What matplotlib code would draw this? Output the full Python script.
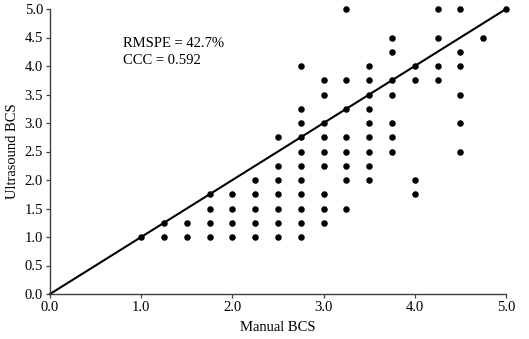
import matplotlib
matplotlib.use("Agg")
import matplotlib.pyplot as plt

plt.rcParams['font.family'] = ['Liberation Serif', 'DejaVu Serif']

# Manual BCS columns and the Ultrasound BCS values observed in each
manual_bcs = [1.0, 1.25, 1.5, 1.75, 2.0, 2.25, 2.5, 2.75, 3.0, 3.25, 3.5, 3.75, 4.0, 4.25, 4.5, 4.75, 5.0]
ultrasound_by_manual = [
    [1.0],
    [1.0, 1.25],
    [1.0, 1.25],
    [1.0, 1.25, 1.5, 1.75],
    [1.0, 1.25, 1.5, 1.75],
    [1.0, 1.25, 1.5, 1.75, 2.0],
    [1.0, 1.25, 1.5, 1.75, 2.0, 2.25, 2.75],
    [1.0, 1.25, 1.5, 1.75, 2.0, 2.25, 2.5, 2.75, 3.0, 3.25, 4.0],
    [1.25, 1.5, 1.75, 2.25, 2.5, 2.75, 3.0, 3.5, 3.75],
    [1.5, 2.0, 2.25, 2.5, 2.75, 3.25, 3.75, 5.0],
    [2.0, 2.25, 2.5, 2.75, 3.0, 3.25, 3.5, 3.75, 4.0],
    [2.5, 2.75, 3.0, 3.5, 3.75, 4.25, 4.5],
    [1.75, 2.0, 3.75, 4.0],
    [3.75, 4.0, 4.5, 5.0],
    [2.5, 3.0, 3.5, 4.0, 4.25, 5.0],
    [4.5],
    [5.0],
]
line_x = [0.0, 5.0]
line_y = [0.0, 5.0]
ticks = [0.0, 0.5, 1.0, 1.5, 2.0, 2.5, 3.0, 3.5, 4.0, 4.5, 5.0]
xticks = [0.0, 1.0, 2.0, 3.0, 4.0, 5.0]

xs, ys = [], []
for m, vals in zip(manual_bcs, ultrasound_by_manual):
    for v in vals:
        xs.append(m)
        ys.append(v)

fig = plt.figure(figsize=(5.29, 3.39), dpi=100)
ax = fig.add_axes([50/529, 45/339, 456/529, 285/339])

ax.plot(line_x, line_y, color='black', lw=1.5, zorder=2, clip_on=False)
ax.scatter(xs, ys, s=22, color='black', zorder=3, linewidths=0, clip_on=False)

ax.set_xlim(0, 5)
ax.set_ylim(0, 5)
ax.set_xticks(xticks)
ax.set_xticklabels([f"{t:.1f}" for t in xticks])
ax.set_yticks(ticks)
ax.set_yticklabels([f"{t:.1f}" for t in ticks])
ax.tick_params(direction='out', length=3, width=0.9, labelsize=10.5, color='#404040', pad=2)
for s in ['top', 'right']:
    ax.spines[s].set_visible(False)
for s in ['left', 'bottom']:
    ax.spines[s].set_color('#404040')
    ax.spines[s].set_linewidth(1.0)
ax.set_xlabel('Manual BCS', fontsize=10.5, labelpad=5)
ax.set_ylabel('Ultrasound BCS', fontsize=10.5, labelpad=4)

ax.text(0.8, 4.40, 'RMSPE = 42.7%', fontsize=10.5, va='center', ha='left')
ax.text(0.8, 4.09, 'CCC = 0.592', fontsize=10.5, va='center', ha='left')

fig.savefig('out.png', dpi=100)
